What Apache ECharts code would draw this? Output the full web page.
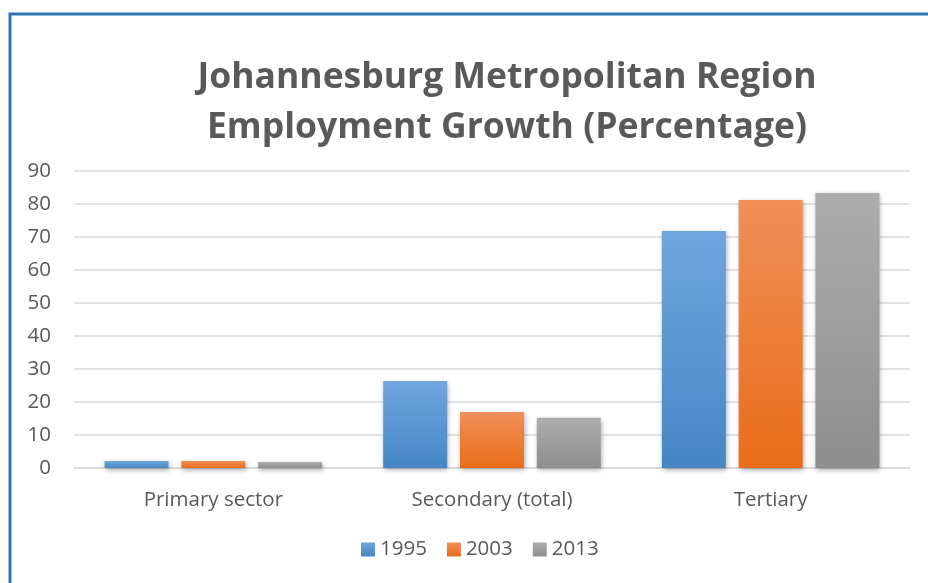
<!DOCTYPE html>
<html><head><meta charset="utf-8">
<script src="https://cdn.jsdelivr.net/npm/echarts@6/dist/echarts.min.js"></script>
<style>html,body{margin:0;padding:0;background:#fff}#c{width:928px;height:583px}</style>
</head><body><div id="c"></div>
<script>
const categories = ['Primary sector', 'Secondary (total)', 'Tertiary'];
const s1995 = [2.1, 26.4, 71.8];
const s2003 = [2.1, 17.0, 81.2];
const s2013 = [1.8, 15.2, 83.3];
const yTicks = [0, 10, 20, 30, 40, 50, 60, 70, 80, 90];

const chart = echarts.init(document.getElementById('c'));
const font = "'Open Sans', 'Noto Sans', sans-serif";
function grad(top, bottom) {
  return new echarts.graphic.LinearGradient(0, 0, 0, 1, [{offset: 0, color: top}, {offset: 1, color: bottom}]);
}
const barStyle = (t, b) => ({
  color: grad(t, b),
  shadowBlur: 5, shadowColor: 'rgba(0,0,0,0.35)', shadowOffsetX: 1, shadowOffsetY: 2
});
chart.setOption({
  animation: false,
  textStyle: {fontFamily: font},
  graphic: [{
    type: 'rect', shape: {x: 10, y: 14, width: 940, height: 600},
    style: {fill: 'none', stroke: '#2e74b5', lineWidth: 3}, silent: true, z: 100
  }],
  title: {
    text: 'Johannesburg Metropolitan Region\nEmployment Growth (Percentage)',
    left: 502, top: 48, textAlign: 'center',
    textStyle: {fontFamily: font, fontWeight: 'bold', fontSize: 35.5, color: '#595959', lineHeight: 50}
  },
  legend: {
    data: ['1995', '2003', '2013'], bottom: 18, left: 356,
    itemWidth: 14, itemHeight: 14, itemGap: 20, icon: 'rect',
    textStyle: {fontSize: 20.5, color: '#595959', fontFamily: font}
  },
  grid: {left: 74, right: 18, top: 171, bottom: 115, containLabel: false},
  xAxis: {
    type: 'category', data: categories,
    axisLine: {lineStyle: {color: '#d9d9d9', width: 1.5}},
    axisTick: {show: false},
    axisLabel: {fontSize: 20.5, color: '#595959', margin: 22, fontFamily: font}
  },
  yAxis: {
    type: 'value', min: yTicks[0], max: yTicks[yTicks.length - 1], interval: 10,
    axisLine: {show: false}, axisTick: {show: false},
    splitLine: {lineStyle: {color: '#d9d9d9', width: 1.5}},
    axisLabel: {fontSize: 20.5, color: '#595959', margin: 23, fontFamily: font}
  },
  series: [
    {name: '1995', type: 'bar', data: s1995, barWidth: 64, barGap: '20%', itemStyle: barStyle('#70a6dd', '#4686c6')},
    {name: '2003', type: 'bar', data: s2003, barWidth: 64, itemStyle: barStyle('#f08f59', '#e96d18')},
    {name: '2013', type: 'bar', data: s2013, barWidth: 64, itemStyle: barStyle('#adadad', '#8e8e8e')}
  ]
});
</script></body></html>
